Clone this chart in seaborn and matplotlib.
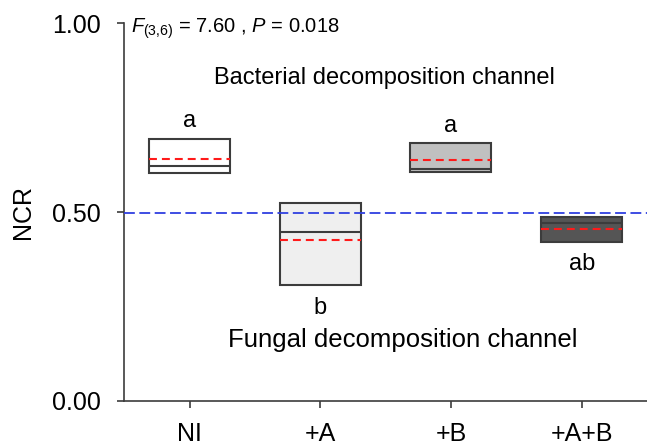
import numpy as np
import pandas as pd
import matplotlib
matplotlib.use("Agg")
import matplotlib.pyplot as plt
import seaborn as sns

# ---- data ----
categories = ["NI", "+A", "+B", "+A+B"]
q1_vals = [0.604, 0.306, 0.606, 0.421]
median_vals = [0.621, 0.446, 0.615, 0.471]
q3_vals = [0.694, 0.524, 0.682, 0.486]
mean_vals = [0.640, 0.425, 0.639, 0.456]
letters = ["a", "b", "a", "ab"]
letter_above = [True, False, True, False]
box_colors = ["#ffffff", "#efefef", "#c0c0c0", "#555555"]
reference_line = 0.5
y_ticks = [0.0, 0.5, 1.0]

sns.set_theme(style="ticks")
plt.rcParams["font.family"] = ["Liberation Sans", "DejaVu Sans"]
plt.rcParams["mathtext.fontset"] = "custom"
plt.rcParams["mathtext.rm"] = "Liberation Sans"
plt.rcParams["mathtext.it"] = "Liberation Sans:italic"
plt.rcParams["text.color"] = "black"
plt.rcParams["axes.labelcolor"] = "black"

# long-form table whose quartiles reproduce the read box edges
rows = []
for c, lo, me, hi in zip(categories, q1_vals, median_vals, q3_vals):
    for v in (lo, lo, me, hi, hi):
        rows.append({"group": c, "NCR": v})
df = pd.DataFrame(rows)

fig = plt.figure(figsize=(6.47, 4.45), dpi=100)
ax = fig.add_axes([0.192, 0.099, 0.808, 0.849])

box_w = 0.62
edge = "#3c3c3c"
sns.boxplot(data=df, x="group", y="NCR", hue="group", order=categories,
            hue_order=categories, palette=box_colors, legend=False,
            width=box_w, whis=0, showcaps=False, showfliers=False,
            linecolor=edge, linewidth=1.5, dodge=False, ax=ax,
            whiskerprops={"linewidth": 0})

# means as red dashed lines across each box
for i, m in enumerate(mean_vals):
    ax.hlines(m, i - box_w / 2, i + box_w / 2, colors="#ff1a1a",
              linestyles=(0, (3.8, 2.4)), linewidth=1.5, zorder=5)

# reference line at 0.5
ax.axhline(reference_line - 0.003, color="#2f3fe0", linestyle=(0, (6, 2.5)),
           linewidth=1.3, zorder=4)

# significance letters
for i, (lab, above) in enumerate(zip(letters, letter_above)):
    if above:
        ax.text(i, q3_vals[i] + 0.017, lab, ha="center", va="bottom", fontsize=17)
    else:
        ax.text(i, q1_vals[i] - 0.03, lab, ha="center", va="top", fontsize=17)

ax.text(-0.45, 0.985, r"$F_{(3{,}6)}$ = 7.60 , $P$ = 0.018", ha="left", va="center",
        fontsize=14.5)
ax.text(1.49, 0.855, "Bacterial decomposition channel", ha="center", va="center",
        fontsize=17)
ax.text(1.63, 0.16, "Fungal decomposition channel", ha="center", va="center",
        fontsize=18.5)

ax.set_xlim(-0.5, 3.5)
ax.set_ylim(0, 1)
ax.set_yticks(y_ticks)
ax.set_yticklabels([f"{t:.2f}" for t in y_ticks])
ax.set_xlabel("")
ax.set_ylabel("NCR", fontsize=18, labelpad=12)
ax.tick_params(axis="both", labelsize=18, color=edge, length=5, width=1.2,
               labelcolor="black")
ax.tick_params(axis="y", pad=12)
ax.tick_params(axis="x", pad=10)
for s in ("top", "right"):
    ax.spines[s].set_visible(False)
for s in ("left", "bottom"):
    ax.spines[s].set_color(edge)
    ax.spines[s].set_linewidth(1.2)

fig.savefig("out.png", dpi=100)
